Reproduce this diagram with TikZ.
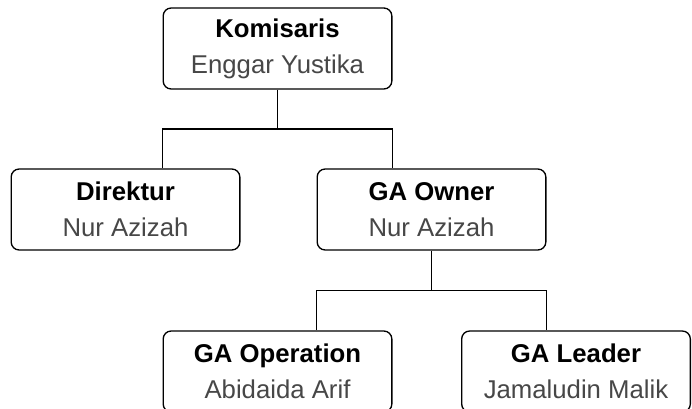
\documentclass[tikz,border=0pt]{standalone}
\usepackage{fontspec}
\setmainfont{Liberation Sans}
\usepackage{tikz}
\usetikzlibrary{positioning,calc}

\newcommand{\jabatan}[2]{\textbf{#1}\\{\color{black!72}#2}}

\tikzset{
  orgbox/.style={draw, line width=1pt, rounded corners=6pt, fill=white,
    minimum width=171.5pt, minimum height=60.75pt, align=center, inner sep=0pt,
    font=\fontsize{19.3}{27}\selectfont},
  link/.style={line width=1pt}
}

\begin{document}
\begin{tikzpicture}[x=0.75pt,y=-0.75pt]
  \useasboundingbox (0,0) rectangle (692,409);
  \clip (0,0) rectangle (692,409);
  % boxes of the chart
  \node[orgbox] (kom) at (277.5,48.5) {\jabatan{Komisaris}{Enggar Yustika}};
  \node[orgbox] (dir) at (125.5,209.5) {\jabatan{Direktur}{Nur Azizah}};
  \node[orgbox] (own) at (431.5,209.5) {\jabatan{GA Owner}{Nur Azizah}};
  \node[orgbox] (ops) at (277.5,371.5) {\jabatan{GA Operation}{Abidaida Arif}};
  \node[orgbox] (lead) at (576,371.5) {\jabatan{GA Leader}{Jamaludin Malik}};
  % connectors, the bar is as wide as the upper box
  \draw[link] (kom.south) -- ($(kom.south)!0.5!(kom.south |- dir.north)$) coordinate (m1);
  \draw[link] (kom.west |- dir.north) |- (m1) -| (kom.east |- own.north);
  \draw[link] (own.south) -- ($(own.south)!0.5!(own.south |- ops.north)$) coordinate (m2);
  \draw[link] (own.west |- ops.north) |- (m2) -| (own.east |- lead.north);
\end{tikzpicture}
\end{document}
